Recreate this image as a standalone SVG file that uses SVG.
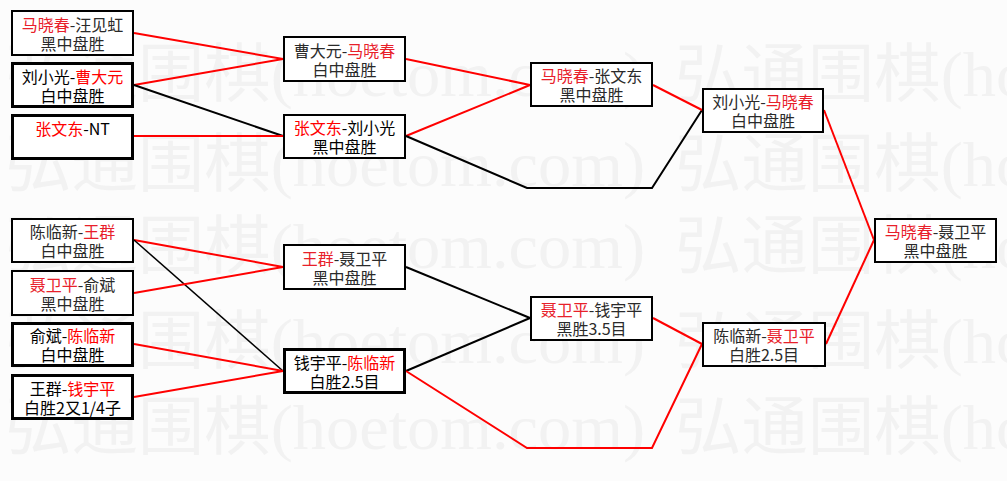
<svg xmlns="http://www.w3.org/2000/svg" width="1007" height="481" viewBox="0 0 1007 481">
<style>
.wm{font-family:"Liberation Serif","Noto Sans CJK SC",serif;font-size:64px;fill:#f2f2f2}
.box{fill:#ffffff;stroke:#000;stroke-width:2}
.thick{stroke-width:3}
.t{font-family:"Noto Sans CJK SC","Noto Sans",sans-serif;font-size:16px;fill:#2a2a2a;text-anchor:middle}
.s{fill:#000}
.r{fill:#e8202a}
.s .r, .r2{fill:#ff0000}
.cr{fill:none;stroke:#ff0000;stroke-width:2}
.cb{fill:none;stroke:#000;stroke-width:2}
</style>
<rect x="0" y="0" width="1007" height="481" fill="#fcfcfc"/>
<g id="watermark">
<text class="wm" x="5" y="96" textLength="640" lengthAdjust="spacingAndGlyphs">弘通围棋(hoetom.com)</text>
<text class="wm" x="675" y="96" textLength="640" lengthAdjust="spacingAndGlyphs">弘通围棋(hoetom.com)</text>
<text class="wm" x="5" y="186" textLength="640" lengthAdjust="spacingAndGlyphs">弘通围棋(hoetom.com)</text>
<text class="wm" x="675" y="186" textLength="640" lengthAdjust="spacingAndGlyphs">弘通围棋(hoetom.com)</text>
<text class="wm" x="5" y="268" textLength="640" lengthAdjust="spacingAndGlyphs">弘通围棋(hoetom.com)</text>
<text class="wm" x="675" y="268" textLength="640" lengthAdjust="spacingAndGlyphs">弘通围棋(hoetom.com)</text>
<text class="wm" x="5" y="363" textLength="640" lengthAdjust="spacingAndGlyphs">弘通围棋(hoetom.com)</text>
<text class="wm" x="675" y="363" textLength="640" lengthAdjust="spacingAndGlyphs">弘通围棋(hoetom.com)</text>
<text class="wm" x="5" y="449" textLength="640" lengthAdjust="spacingAndGlyphs">弘通围棋(hoetom.com)</text>
<text class="wm" x="675" y="449" textLength="640" lengthAdjust="spacingAndGlyphs">弘通围棋(hoetom.com)</text>
</g>
<g id="connectors">
<line class="cr" x1="134" y1="33" x2="283" y2="59"/>
<line class="cr" x1="134" y1="85" x2="283" y2="59"/>
<line class="cb" x1="134" y1="85" x2="283" y2="136"/>
<line class="cr" x1="134" y1="136" x2="283" y2="136"/>
<line class="cr" x1="406" y1="59" x2="530" y2="85"/>
<line class="cr" x1="406" y1="136" x2="530" y2="85"/>
<polyline class="cb" points="406,136 527,188 652,188 702,110"/>
<line class="cr" x1="653" y1="85" x2="702" y2="110"/>
<line class="cr" x1="824" y1="110" x2="874" y2="240"/>
<line class="cr" x1="134" y1="240" x2="283" y2="267"/>
<line class="cb" x1="134" y1="240" x2="283" y2="371" style="stroke-width:1.5"/>
<line class="cr" x1="134" y1="293" x2="283" y2="267"/>
<line class="cr" x1="134" y1="344" x2="283" y2="371"/>
<line class="cr" x1="134" y1="397" x2="283" y2="371"/>
<line class="cb" x1="406" y1="267" x2="530" y2="318"/>
<line class="cb" x1="406" y1="371" x2="530" y2="318"/>
<polyline class="cr" points="406,371 527,448 652,448 702,344"/>
<line class="cr" x1="653" y1="318" x2="702" y2="344"/>
<line class="cr" x1="826" y1="344" x2="874" y2="240"/>
</g>
<g id="n1"><rect class="box" x="12" y="11" width="121" height="44"/>
<text class="t" x="72.5" y="31"><tspan class="r">马晓春</tspan>-汪见虹</text><text class="t" x="72.5" y="50">黑中盘胜</text></g>
<g id="n2" class="s"><rect class="box thick" x="12.5" y="63.5" width="120" height="43"/>
<text class="t s" x="72.5" y="83">刘小光-<tspan class="r2">曹大元</tspan></text><text class="t s" x="72.5" y="102">白中盘胜</text></g>
<g id="n3"><rect class="box thick" x="12.5" y="115.5" width="120" height="43"/>
<text class="t s" x="72.5" y="135"><tspan class="r2">张文东</tspan>-NT</text></g>
<g id="n4"><rect class="box" x="12" y="219" width="121" height="43"/>
<text class="t" x="72.5" y="238">陈临新-<tspan class="r">王群</tspan></text><text class="t" x="72.5" y="257">白中盘胜</text></g>
<g id="n5"><rect class="box" x="12" y="271" width="121" height="44"/>
<text class="t" x="72.5" y="291"><tspan class="r">聂卫平</tspan>-俞斌</text><text class="t" x="72.5" y="310">黑中盘胜</text></g>
<g id="n6"><rect class="box thick" x="12.5" y="323.5" width="120" height="42"/>
<text class="t s" x="72.5" y="342">俞斌-<tspan class="r2">陈临新</tspan></text><text class="t s" x="72.5" y="361">白中盘胜</text></g>
<g id="n7"><rect class="box thick" x="12.5" y="375.5" width="120" height="43"/>
<text class="t s" x="72.5" y="395">王群-<tspan class="r2">钱宇平</tspan></text><text class="t s" x="72.5" y="414">白胜2又1/4子</text></g>
<g id="m1"><rect class="box" x="284" y="37" width="121" height="44"/>
<text class="t" x="344.5" y="57">曹大元-<tspan class="r">马晓春</tspan></text><text class="t" x="344.5" y="76">白中盘胜</text></g>
<g id="m2"><rect class="box" x="284" y="115" width="121" height="43"/>
<text class="t s" x="344.5" y="134"><tspan class="r2">张文东</tspan>-刘小光</text><text class="t s" x="344.5" y="153">黑中盘胜</text></g>
<g id="m3"><rect class="box" x="284" y="245" width="121" height="44"/>
<text class="t" x="344.5" y="265"><tspan class="r">王群</tspan>-聂卫平</text><text class="t" x="344.5" y="284">黑中盘胜</text></g>
<g id="m4"><rect class="box thick" x="284.5" y="349.5" width="120" height="43"/>
<text class="t s" x="344.5" y="369">钱宇平-<tspan class="r2">陈临新</tspan></text><text class="t s" x="344.5" y="388">白胜2.5目</text></g>
<g id="t1"><rect class="box" x="531" y="63" width="121" height="43"/>
<text class="t" x="591.5" y="82"><tspan class="r">马晓春</tspan>-张文东</text><text class="t" x="591.5" y="101">黑中盘胜</text></g>
<g id="t2"><rect class="box" x="531" y="297" width="121" height="43"/>
<text class="t" x="591.5" y="316"><tspan class="r">聂卫平</tspan>-钱宇平</text><text class="t" x="591.5" y="335">黑胜3.5目</text></g>
<g id="f1"><rect class="box" x="703" y="89" width="120" height="43"/>
<text class="t" x="763" y="108">刘小光-<tspan class="r">马晓春</tspan></text><text class="t" x="763" y="127">白中盘胜</text></g>
<g id="f2"><rect class="box" x="703" y="323" width="122" height="43"/>
<text class="t" x="764" y="342">陈临新-<tspan class="r">聂卫平</tspan></text><text class="t" x="764" y="361">白胜2.5目</text></g>
<g id="g1"><rect class="box" x="875" y="219" width="121" height="43"/>
<text class="t" x="935.5" y="238"><tspan class="r">马晓春</tspan>-聂卫平</text><text class="t" x="935.5" y="257">黑中盘胜</text></g>
</svg>
